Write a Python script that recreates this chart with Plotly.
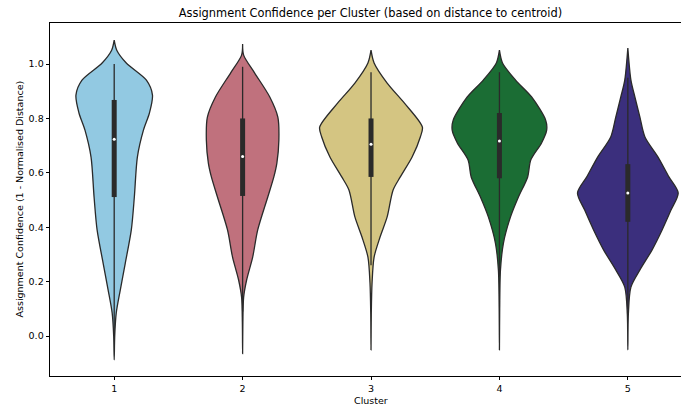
import plotly.graph_objects as go

# ---------------- data ----------------
clusters = ["1", "2", "3", "4", "5"]
colors = ["#92C9E2", "#C0717D", "#D4C582", "#1B6D34", "#3B2F7D"]

# violin outline: value levels and relative density (1 = widest violin)
c1_vals = [1.088, 1.051, 1.004, 0.941, 0.886, 0.820, 0.757, 0.658, 0.511, 0.390, 0.268, 0.169, 0.085, 0.0, -0.088]
c1_dens = [0.0, 0.05, 0.235, 0.627, 0.745, 0.686, 0.569, 0.451, 0.392, 0.333, 0.216, 0.118, 0.04, 0.01, 0.0]

c2_vals = [1.074, 1.033, 0.967, 0.879, 0.805, 0.721, 0.636, 0.585, 0.511, 0.390, 0.290, 0.206, 0.143, 0.05, -0.065]
c2_dens = [0.0, 0.02, 0.235, 0.529, 0.686, 0.706, 0.667, 0.608, 0.490, 0.294, 0.196, 0.078, 0.02, 0.005, 0.0]

c3_vals = [1.051, 1.004, 0.930, 0.857, 0.768, 0.732, 0.658, 0.585, 0.537, 0.438, 0.364, 0.290, 0.195, 0.08, -0.051]
c3_dens = [0.0, 0.06, 0.314, 0.647, 1.0, 0.96, 0.80, 0.57, 0.43, 0.314, 0.176, 0.06, 0.02, 0.005, 0.0]

c4_vals = [1.051, 1.004, 0.941, 0.879, 0.794, 0.757, 0.710, 0.647, 0.585, 0.511, 0.438, 0.342, 0.243, 0.10, -0.051]
c4_dens = [0.0, 0.06, 0.314, 0.627, 0.90, 0.92, 0.82, 0.61, 0.55, 0.37, 0.216, 0.078, 0.02, 0.005, 0.0]

c5_vals = [1.059, 0.941, 0.879, 0.805, 0.732, 0.658, 0.585, 0.526, 0.463, 0.390, 0.316, 0.243, 0.180, 0.08, -0.051]
c5_dens = [0.0, 0.06, 0.137, 0.235, 0.333, 0.588, 0.80, 0.98, 0.84, 0.667, 0.47, 0.235, 0.06, 0.01, 0.0]

# inner box: whisker low, Q1, median, Q3, whisker high
whisker_lo = [0.0, 0.09, 0.26, 0.22, 0.10]
q1 = [0.511, 0.515, 0.585, 0.580, 0.420]
median = [0.724, 0.660, 0.705, 0.717, 0.526]
q3 = [0.868, 0.800, 0.800, 0.820, 0.632]
whisker_hi = [1.0, 0.99, 0.97, 0.97, 0.95]

profiles = [(c1_vals, c1_dens), (c2_vals, c2_dens), (c3_vals, c3_dens),
            (c4_vals, c4_dens), (c5_vals, c5_dens)]

HALF = 0.4  # half of the maximum violin width in category units
EDGE = "#2a2a2a"

fig = go.Figure()
for i, (vals, dens) in enumerate(profiles):
    # right side from bottom to top, then left side from top to bottom
    up_v = list(reversed(vals))
    up_d = list(reversed(dens))
    xs = [i + d * HALF for d in up_d] + [i - d * HALF for d in dens]
    ys = up_v + vals
    fig.add_trace(go.Scatter(
        x=xs, y=ys, mode="lines", fill="toself",
        fillcolor=colors[i],
        line=dict(color=EDGE, width=1.3, shape="spline", smoothing=0.8),
        hoverinfo="skip", showlegend=False))
    # whisker
    fig.add_trace(go.Scatter(
        x=[i, i], y=[whisker_lo[i], whisker_hi[i]], mode="lines",
        line=dict(color=EDGE, width=1.3), hoverinfo="skip", showlegend=False))
    # box
    fig.add_trace(go.Scatter(
        x=[i, i], y=[q1[i], q3[i]], mode="lines",
        line=dict(color=EDGE, width=5), hoverinfo="skip", showlegend=False))
    # median
    fig.add_trace(go.Scatter(
        x=[i], y=[median[i]], mode="markers",
        marker=dict(color="white", size=3, line=dict(width=0)),
        hoverinfo="skip", showlegend=False))

FONT = "DejaVu Sans"
fig.update_layout(
    width=681, height=411,
    margin=dict(l=50, r=0, t=23, b=35),
    paper_bgcolor="white", plot_bgcolor="white",
    font=dict(family=FONT, size=9.5, color="black"),
    title=dict(text="Assignment Confidence per Cluster (based on distance to centroid)",
               font=dict(family=FONT, size=11.4, color="black"),
               x=0.544, xref="container", xanchor="center",
               y=1 - 13 / 411, yref="container", yanchor="middle"),
    showlegend=False,
)
fig.update_xaxes(
    range=[-0.5, 4.414], tickmode="array", tickvals=list(range(len(clusters))),
    ticktext=clusters, ticks="outside", ticklen=3.5, tickwidth=0.8, tickcolor="black",
    showline=True, linecolor="black", linewidth=0.8, mirror=True,
    showgrid=False, zeroline=False,
    tickfont=dict(family=FONT, size=9.5, color="black"),
)
fig.update_yaxes(
    range=[-0.147, 1.151], tickmode="array",
    tickvals=[0.0, 0.2, 0.4, 0.6, 0.8, 1.0],
    ticktext=["0.0", "0.2", "0.4", "0.6", "0.8", "1.0"],
    ticks="outside", ticklen=3.5, tickwidth=0.8, tickcolor="black",
    showline=True, linecolor="black", linewidth=0.8, mirror=False,
    showgrid=False, zeroline=False,
    tickfont=dict(family=FONT, size=9.5, color="black"),
)
fig.add_annotation(text="Cluster", xref="paper", yref="paper",
                   x=(370.5 - 50) / 631, y=-(400 - 376) / 353,
                   xanchor="center", yanchor="middle", showarrow=False,
                   font=dict(family=FONT, size=9.5, color="black"))
fig.add_annotation(text="Assignment Confidence (1 - Normalised Distance)",
                   xref="paper", yref="paper",
                   x=-(50 - 19) / 631, y=0.5, textangle=-90,
                   xanchor="center", yanchor="middle", showarrow=False,
                   font=dict(family=FONT, size=9.5, color="black"))

fig.write_html("out.html")
